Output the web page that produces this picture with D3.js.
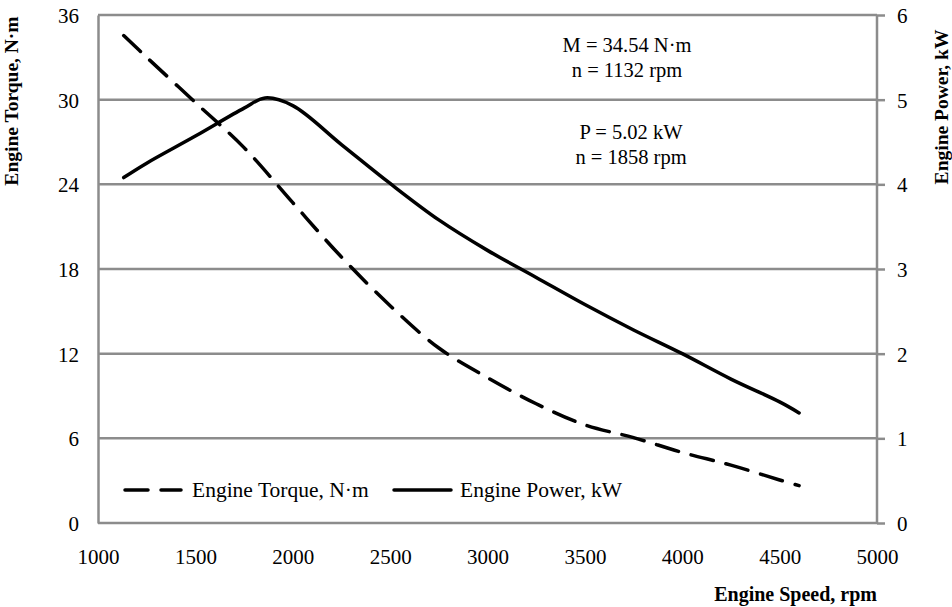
<!DOCTYPE html>
<html>
<head>
<meta charset="utf-8">
<script src="https://cdn.jsdelivr.net/npm/d3@7"></script>
<style>
  body { margin: 0; background: white; }
  text { font-family: "Liberation Serif", "Times New Roman", serif; fill: black; }
</style>
</head>
<body>
<div class="container"></div>
<script>
// engine speed, rpm
const torqueRpm = [1132, 1250, 1500, 1750, 2000, 2250, 2500, 2750, 3000, 3250, 3500, 3750, 4000, 4250, 4500, 4600];
const torqueNm  = [34.54, 33.0, 29.8, 26.6, 22.7, 18.85, 15.4, 12.4, 10.3, 8.45, 6.95, 6.05, 5.0, 4.1, 3.05, 2.65];

const powerRpm = [1132, 1250, 1500, 1750, 1858, 2000, 2250, 2500, 2750, 3000, 3250, 3500, 3750, 4000, 4250, 4500, 4600];
const powerKw  = [4.08, 4.25, 4.57, 4.90, 5.02, 4.93, 4.47, 4.01, 3.58, 3.22, 2.90, 2.58, 2.28, 2.00, 1.70, 1.43, 1.30];

const xTicks = [1000, 1500, 2000, 2500, 3000, 3500, 4000, 4500, 5000];
const torqueTicks = [0, 6, 12, 18, 24, 30, 36];
const powerTicks = [0, 1, 2, 3, 4, 5, 6];

const seriesNames = ["Engine Torque, N\u00b7m", "Engine Power, kW"];
const notes = [
  ["M = 34.54 N\u00b7m", "n = 1132 rpm"],
  ["P = 5.02 kW", "n = 1858 rpm"]
];

const margin = {top: 15, bottom: 84, right: 75, left: 98},
  width = 952 - margin.left - margin.right,
  height = 607 - margin.top - margin.bottom;

const grey = "#8c8c8c";

const svg = d3.select(".container")
  .append("svg")
  .attr("width", width + margin.left + margin.right)
  .attr("height", height + margin.top + margin.bottom);

const group = svg.append("g")
  .attr("transform", `translate(${margin.left},${margin.top})`);

const x_scale = d3.scaleLinear().domain([1000, 5000]).range([0, width]);
const y_left = d3.scaleLinear().domain([0, 36]).range([height, 0]);
const y_right = d3.scaleLinear().domain([0, 6]).range([height, 0]);

// horizontal grid lines
group.append("g")
  .selectAll("line")
  .data(torqueTicks)
  .join("line")
  .attr("x1", 0)
  .attr("x2", width)
  .attr("y1", d => y_left(d))
  .attr("y2", d => y_left(d))
  .attr("stroke", grey)
  .attr("stroke-width", 2.5);

// left axis
const y_axis = d3.axisLeft(y_left).tickValues(torqueTicks).tickFormat(d3.format("d"))
  .tickSize(0).tickPadding(19);
group.append("g")
  .call(y_axis)
  .call(g => g.select(".domain").attr("stroke", grey).attr("stroke-width", 2.5))
  .call(g => g.selectAll(".tick text").attr("font-size", 21).attr("dy", "0.35em"));

// right axis
const y_axis_r = d3.axisRight(y_right).tickValues(powerTicks).tickFormat(d3.format("d"))
  .tickSize(8).tickPadding(12);
group.append("g")
  .attr("transform", `translate(${width},0)`)
  .call(y_axis_r)
  .call(g => g.select(".domain").attr("d", `M0,0V${height}`).attr("stroke", grey).attr("stroke-width", 2.5))
  .call(g => g.selectAll(".tick line").attr("stroke", grey).attr("stroke-width", 2.5))
  .call(g => g.selectAll(".tick text").attr("font-size", 21).attr("dy", "0.35em"));

// bottom axis
const x_axis = d3.axisBottom(x_scale).tickValues(xTicks).tickFormat(d3.format("d"))
  .tickSize(0).tickPadding(26);
group.append("g")
  .attr("transform", `translate(0,${height})`)
  .call(x_axis)
  .call(g => g.select(".domain").remove())
  .call(g => g.selectAll(".tick text").attr("font-size", 21));

// curves
const torqueData = torqueRpm.map((r, i) => ({rpm: r, v: torqueNm[i]}));
const powerData = powerRpm.map((r, i) => ({rpm: r, v: powerKw[i]}));

const torqueLine = d3.line()
  .curve(d3.curveCatmullRom)
  .x(d => x_scale(d.rpm))
  .y(d => y_left(d.v));

const powerLine = d3.line()
  .curve(d3.curveCatmullRom)
  .x(d => x_scale(d.rpm))
  .y(d => y_right(d.v));

group.append("path")
  .datum(torqueData)
  .attr("fill", "none")
  .attr("stroke", "black")
  .attr("stroke-width", 3.5)
  .attr("stroke-linecap", "round")
  .attr("stroke-dasharray", "23,13")
  .attr("d", torqueLine);

group.append("path")
  .datum(powerData)
  .attr("fill", "none")
  .attr("stroke", "black")
  .attr("stroke-width", 3.5)
  .attr("stroke-linejoin", "round")
  .attr("stroke-linecap", "round")
  .attr("d", powerLine);

// notes
const noteY = [[52, 77], [139, 164]];
const noteX = [627, 631];
notes.forEach((lines, i) => {
  svg.append("text")
    .attr("text-anchor", "middle")
    .attr("font-size", 20.5)
    .selectAll("tspan")
    .data(lines)
    .join("tspan")
    .attr("x", noteX[i])
    .attr("y", (d, j) => noteY[i][j])
    .text(d => d);
});

// legend
const legend = svg.append("g").attr("transform", "translate(0,490)");
const legendItems = [
  {name: seriesNames[0], x1: 125, x2: 181, dash: "23,13", tx: 192},
  {name: seriesNames[1], x1: 394, x2: 451, dash: null, tx: 460}
];
legendItems.forEach(d => {
  legend.append("line")
    .attr("x1", d.x1).attr("x2", d.x2)
    .attr("stroke", "black")
    .attr("stroke-width", 3.5)
    .attr("stroke-linecap", "round")
    .attr("stroke-dasharray", d.dash);
  legend.append("text")
    .attr("x", d.tx)
    .attr("dy", "0.32em")
    .attr("font-size", 21.5)
    .text(d.name);
});

// axis titles
svg.append("text")
  .attr("transform", "translate(18,101) rotate(-90)")
  .attr("text-anchor", "middle")
  .attr("font-weight", "bold")
  .attr("font-size", 19.5)
  .text("Engine Torque, N\u00b7m");

svg.append("text")
  .attr("transform", "translate(948,107) rotate(-90)")
  .attr("text-anchor", "middle")
  .attr("font-weight", "bold")
  .attr("font-size", 19.5)
  .text("Engine Power, kW");

svg.append("text")
  .attr("x", margin.left + width)
  .attr("y", 601)
  .attr("text-anchor", "end")
  .attr("font-weight", "bold")
  .attr("font-size", 20)
  .text("Engine Speed, rpm");
</script>
</body>
</html>
